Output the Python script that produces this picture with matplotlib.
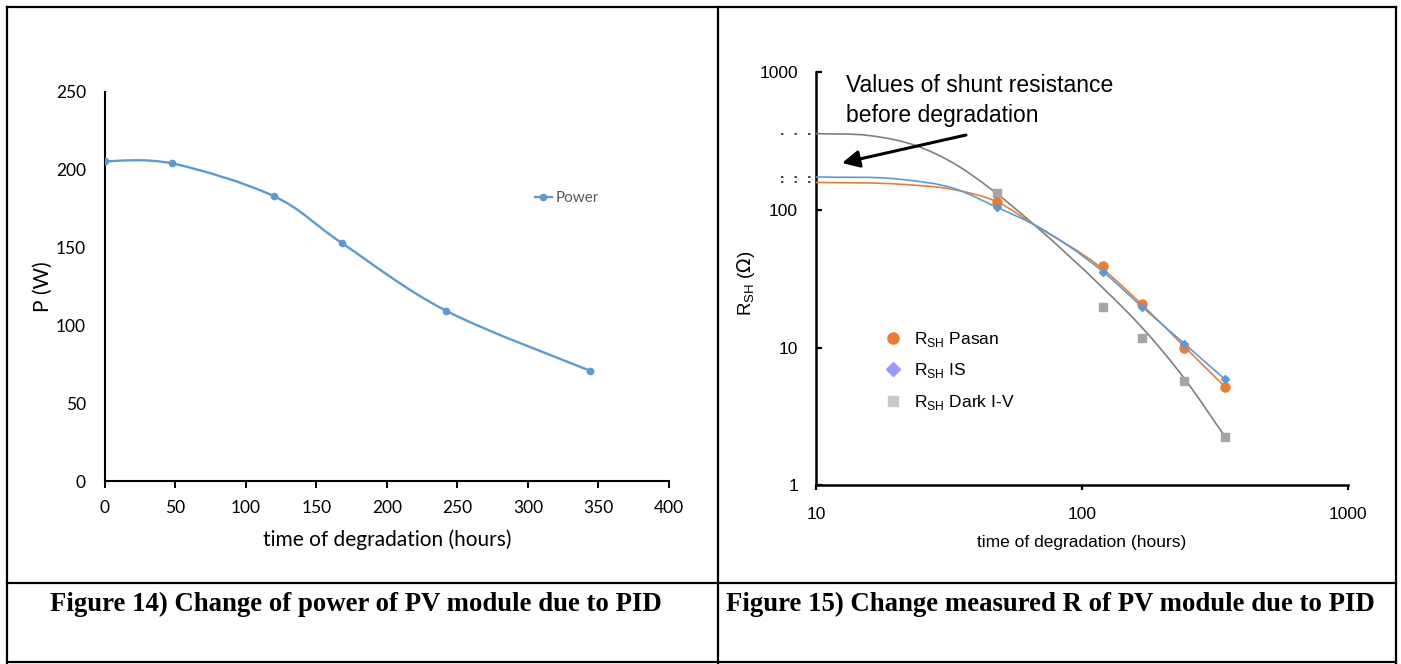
import numpy as np
import matplotlib
matplotlib.use("Agg")
import matplotlib.pyplot as plt
from matplotlib.path import Path
from matplotlib.patches import PathPatch
from matplotlib.lines import Line2D
from matplotlib.transforms import blended_transform_factory

# ---------------- Figure 14: module power vs. degradation time ----------------
hours = [0, 48, 120, 168, 242, 344]
power_w = [205.5, 204, 183, 153, 109.5, 71]

# ---------------- Figure 15: shunt resistance vs. degradation time ----------------
rsh_hours = [48, 120, 168, 242, 344]
rsh_pasan = [114, 39.3, 20.7, 9.9, 5.2]
rsh_is = [104, 35.2, 19.6, 10.6, 5.9]
rsh_dark = [133, 19.6, 11.7, 5.7, 2.26]

# fitted trend curves, sampled along each curve
trend_hours = [10, 21, 33, 48, 66, 120, 168, 242, 344]
trend_pasan = [158, 153, 140, 114, 78, 37, 20.5, 10.2, 5.2]
trend_is = [173, 166, 143, 104, 78, 35.5, 19.8, 10.7, 5.9]
trend_dark_hours = [10, 16, 24, 33, 46, 66, 120, 168, 242, 344]
trend_dark = [357, 345, 290, 217, 139, 78, 27, 14, 6.0, 2.27]

legend_labels = [r"R$_{\mathregular{SH}}$ Pasan",
                 r"R$_{\mathregular{SH}}$ IS",
                 r"R$_{\mathregular{SH}}$ Dark I-V"]

W, H = 1401, 664
BLUE = "#5B9BD5"
ORANGE = "#ED7D31"
GREY_LINE = "#7F7F7F"
GREY_MARK = "#A5A5A5"


def fx(px):
    return px / W


def fy(py):
    return 1 - py / H


def smooth_path(xs, ys):
    """Spreadsheet-style smoothed line: cubic Bezier through the points."""
    x = np.asarray(xs, float)
    y = np.asarray(ys, float)
    px = np.concatenate([[x[0]], x, [x[-1]]])
    py = np.concatenate([[y[0]], y, [y[-1]]])
    verts = [(x[0], y[0])]
    codes = [Path.MOVETO]
    for i in range(len(x) - 1):
        c1 = (x[i] + (px[i + 2] - px[i]) / 6, y[i] + (py[i + 2] - py[i]) / 6)
        c2 = (x[i + 1] - (px[i + 3] - px[i + 1]) / 6,
              y[i + 1] - (py[i + 3] - py[i + 1]) / 6)
        verts += [c1, c2, (x[i + 1], y[i + 1])]
        codes += [Path.CURVE4] * 3
    return Path(np.array(verts), codes)


def loglog_curve(xs, ys):
    """Hermite curve through the samples, built in log-log space."""
    u = np.log10(xs)
    v = np.log10(ys)
    h = np.diff(u)
    d = np.diff(v) / h
    m = np.empty_like(u)
    m[0], m[-1] = d[0], d[-1]
    m[1:-1] = (h[1:] * d[:-1] + h[:-1] * d[1:]) / (h[:-1] + h[1:])
    verts = [(u[0], v[0])]
    codes = [Path.MOVETO]
    for i in range(len(u) - 1):
        verts += [(u[i] + h[i] / 3, v[i] + m[i] * h[i] / 3),
                  (u[i + 1] - h[i] / 3, v[i + 1] - m[i + 1] * h[i] / 3),
                  (u[i + 1], v[i + 1])]
        codes += [Path.CURVE4] * 3
    return Path(10 ** np.array(verts), codes)


fig = plt.figure(figsize=(W / 100, H / 100), dpi=100)

# ---------------- left chart ----------------
SANS_L = "Lato"
ax1 = fig.add_axes([fx(104.7), fy(481.4), (669 - 104.7) / W, (481.4 - 91.8) / H])
ax1.set_xlim(0, 400)
ax1.set_ylim(0, 250)
ax1.add_patch(PathPatch(smooth_path(hours, power_w), fill=False,
                        edgecolor=BLUE, lw=1.7, zorder=3))
ax1.plot(hours, power_w, ls="none", marker="o", ms=4.5, color=BLUE, zorder=4)
for s in ("top", "right"):
    ax1.spines[s].set_visible(False)
for s in ("left", "bottom"):
    ax1.spines[s].set_linewidth(1.5)
    ax1.spines[s].set_color("black")
ax1.set_xticks(np.arange(0, 401, 50))
ax1.set_yticks(np.arange(0, 251, 50))
ax1.tick_params(axis="x", direction="out", length=4.7, width=1.4, pad=9,
                labelsize=12.5, colors="black")
ax1.tick_params(axis="y", length=0, pad=13.5, labelsize=12.5)
for lab in ax1.get_xticklabels() + ax1.get_yticklabels():
    lab.set_fontfamily(SANS_L)
ax1.set_xlabel("time of degradation (hours)", fontfamily=SANS_L, fontsize=15,
               va="center")
ax1.xaxis.set_label_coords(0.5003, -0.1504)
ax1.set_ylabel("P (W)", fontfamily=SANS_L, fontsize=15, va="center")
ax1.yaxis.set_label_coords(-0.110, 0.499)
h_power = Line2D([], [], color=BLUE, lw=1.7, marker="o", ms=4.5)
ax1.legend([h_power], ["Power"], loc="center left",
           bbox_to_anchor=(fx(535), fy(198)), bbox_transform=fig.transFigure,
           frameon=False, handlelength=1.1, handletextpad=0.25,
           borderpad=0, borderaxespad=0,
           prop={"family": SANS_L, "size": 11}, labelcolor="#595959")

# ---------------- right chart ----------------
SANS_R = "Liberation Sans"
ax2 = fig.add_axes([fx(816), fy(485.3), (1348 - 816) / W, (485.3 - 72) / H])
ax2.set_xscale("log")
ax2.set_yscale("log")
ax2.set_xlim(10, 1000)
ax2.set_ylim(1, 1000)

for th, tr, col in ((trend_dark_hours, trend_dark, GREY_LINE),
                    (trend_hours, trend_pasan, ORANGE),
                    (trend_hours, trend_is, BLUE)):
    ax2.add_patch(PathPatch(loglog_curve(th, tr), fill=False,
                            edgecolor=col, lw=1.2, zorder=3))

ax2.plot(rsh_hours, rsh_dark, ls="none", marker="s", ms=5.5, color=GREY_MARK,
         zorder=4)
ax2.plot(rsh_hours, rsh_pasan, ls="none", marker="o", ms=6.5, color=ORANGE,
         zorder=5)
ax2.plot(rsh_hours, rsh_is, ls="none", marker="D", ms=4, color=BLUE, zorder=6)

# dotted marks left of the axis at the starting values
blend = blended_transform_factory(ax2.transAxes, ax2.transData)
for r0 in (trend_dark[0], trend_is[0], trend_pasan[0]):
    ax2.plot([-0.066, -0.008], [r0, r0], transform=blend, clip_on=False,
             color="#333333", lw=1.3, dashes=(1.3, 6.2))

for s in ("top", "right"):
    ax2.spines[s].set_visible(False)
for s in ("left", "bottom"):
    ax2.spines[s].set_linewidth(1.8)
    ax2.spines[s].set_color("black")
ax2.set_xticks([10, 100, 1000])
ax2.set_xticklabels(["10", "100", "1000"])
ax2.set_yticks([1, 10, 100, 1000])
ax2.set_yticklabels(["1", "10", "100", "1000"])
ax2.minorticks_off()
ax2.tick_params(axis="x", which="major", direction="out", length=3.5,
                width=1.6, pad=12, labelsize=12.5)
ax2.tick_params(axis="y", which="major", direction="in", length=4.5,
                width=1.6, pad=13, labelsize=12.5)
for lab in ax2.get_xticklabels() + ax2.get_yticklabels():
    lab.set_fontfamily(SANS_R)
ax2.set_xlabel("time of degradation (hours)", fontfamily=SANS_R, fontsize=12.5,
               va="center")
ax2.xaxis.set_label_coords(0.5, -0.1396)
ax2.set_ylabel(r"R$_{\mathregular{SH}}$ ($\Omega$)", fontfamily=SANS_R,
               fontsize=13.5, va="center")
ax2.yaxis.set_label_coords(-0.1316, 0.4895)

handles = [Line2D([], [], ls="none", marker="o", ms=8, color=ORANGE),
           Line2D([], [], ls="none", marker="D", ms=7, color="#9999FF"),
           Line2D([], [], ls="none", marker="s", ms=6.5, color="#C8C8C8")]
ax2.legend(handles, legend_labels, loc="upper left",
           bbox_to_anchor=(fx(884), fy(330)), bbox_transform=fig.transFigure,
           frameon=False, handlelength=1.0, handletextpad=0.75,
           labelspacing=0.72, borderpad=0, borderaxespad=0,
           prop={"family": SANS_R, "size": 12.5})

fig.text(fx(846), fy(92), "Values of shunt resistance", fontfamily=SANS_R,
         fontsize=16.5, ha="left", va="baseline")
fig.text(fx(846), fy(122), "before degradation", fontfamily=SANS_R,
         fontsize=16.5, ha="left", va="baseline")
ax2.annotate("", xy=(fx(842), fy(163)), xycoords="figure fraction",
             xytext=(fx(966), fy(135)), textcoords="figure fraction",
             arrowprops=dict(arrowstyle="-|>", color="black", lw=2.2,
                             mutation_scale=26, shrinkA=0, shrinkB=0))

# ---------------- table frame and captions ----------------
frame_lines = [((7, 1396), (7, 7)), ((7, 1396), (583, 583)),
               ((7, 1396), (662, 662)), ((7, 7), (7, 664)),
               ((1396, 1396), (7, 664)), ((718, 718), (7, 664))]
for xs, ys in frame_lines:
    fig.add_artist(Line2D([fx(x) for x in xs], [fy(y) for y in ys],
                          transform=fig.transFigure, color="black", lw=1.6))

fig.text(fx(356), fy(611), "Figure 14) Change of power of PV module due to PID",
         fontfamily="Liberation Serif", fontweight="bold", fontsize=19.3,
         ha="center", va="baseline")
fig.text(fx(1050), fy(611), "Figure 15) Change measured R of PV module due to PID",
         fontfamily="Liberation Serif", fontweight="bold", fontsize=19.3,
         ha="center", va="baseline")

fig.savefig("out.png", dpi=100)
